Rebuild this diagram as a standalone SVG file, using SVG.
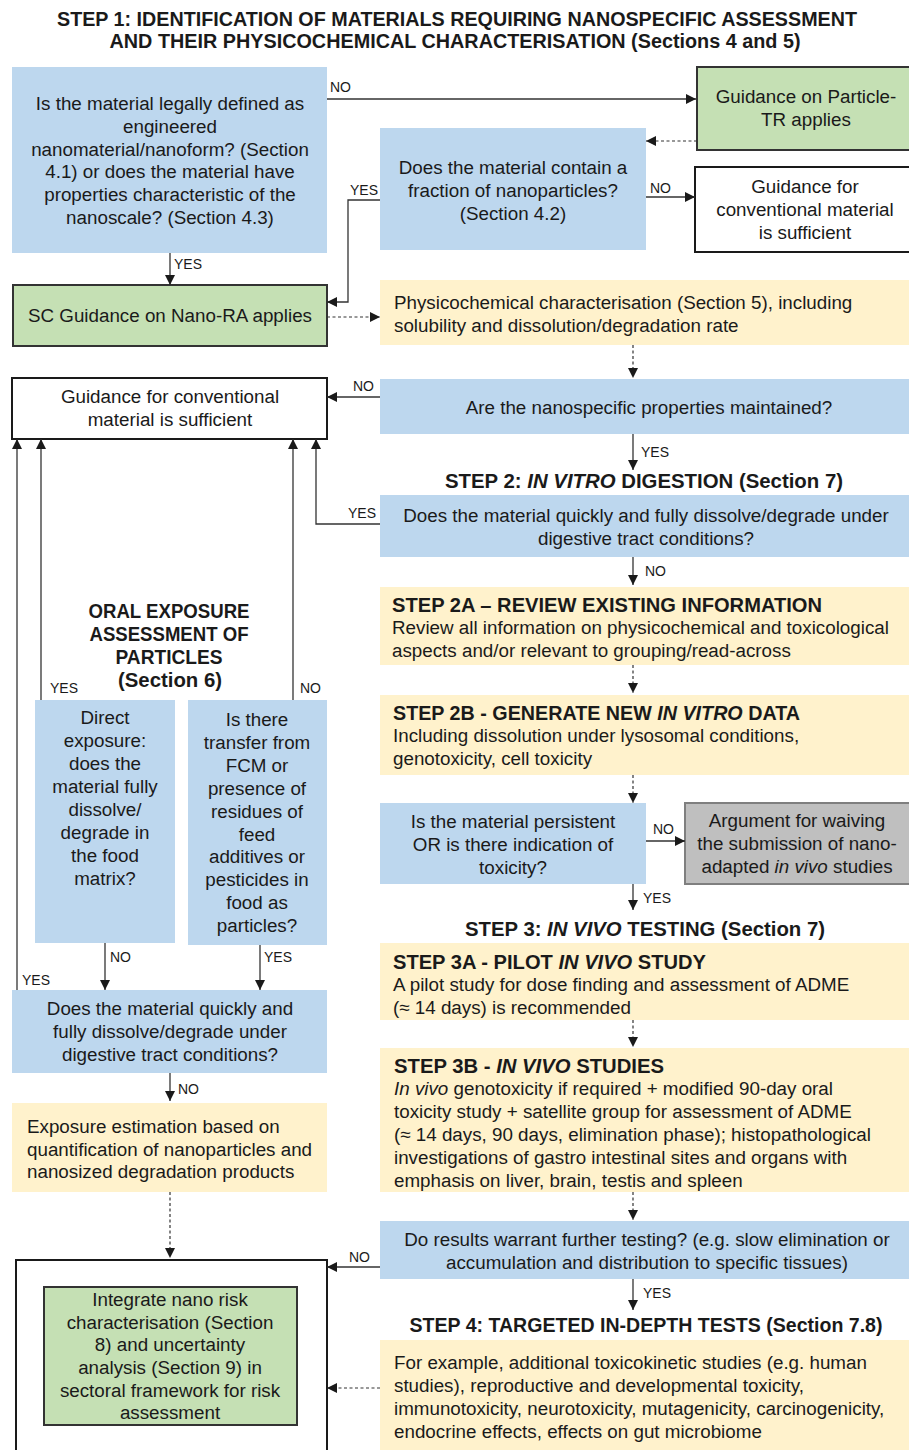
<svg xmlns="http://www.w3.org/2000/svg" width="909" height="1450" viewBox="0 0 909 1450">
<style>
text{font-family:"Liberation Sans",Arial,sans-serif;font-size:18.8px;fill:#1a1a1a}
.c{text-anchor:middle}
.b{font-weight:bold;font-size:20px}
.s{font-size:14px}
.blue{fill:#bdd7ee}
.yel{fill:#fff2cc}
.grn{fill:#c5e0b4;stroke:#333;stroke-width:2}
.wht{fill:#fff;stroke:#1a1a1a;stroke-width:2}
.gry{fill:#bfbfbf;stroke:#7f7f7f;stroke-width:2}
.ln{fill:none;stroke:#333;stroke-width:1.3}
.dl{fill:none;stroke:#333;stroke-width:1.2;stroke-dasharray:3,2.5}
</style>
<defs>
<marker id="ah" viewBox="0 0 10 10" refX="10" refY="5" markerWidth="10" markerHeight="10" markerUnits="userSpaceOnUse" orient="auto"><path d="M0,0 L10,5 L0,10 z" fill="#1a1a1a"/></marker>
</defs>
<rect width="909" height="1450" fill="#fff"/>
<g id="title1">
<text class="b c" x="457" y="26" textLength="800" lengthAdjust="spacingAndGlyphs">STEP 1: IDENTIFICATION OF MATERIALS REQUIRING NANOSPECIFIC ASSESSMENT</text>
<text class="b c" x="455" y="48" textLength="691" lengthAdjust="spacingAndGlyphs">AND THEIR PHYSICOCHEMICAL CHARACTERISATION (Sections 4 and 5)</text>
</g>
<g id="nodeA"><rect class="blue" x="12" y="67" width="315" height="186"/>
<text class="c" x="170" y="110">Is the material legally defined as</text>
<text class="c" x="170" y="133">engineered</text>
<text class="c" x="170" y="156">nanomaterial/nanoform? (Section</text>
<text class="c" x="170" y="178">4.1) or does the material have</text>
<text class="c" x="170" y="201">properties characteristic of the</text>
<text class="c" x="170" y="224">nanoscale? (Section 4.3)</text></g>
<g id="nodeB"><rect class="grn" x="697" y="67" width="214" height="83"/>
<text class="c" x="806" y="103">Guidance on Particle-</text>
<text class="c" x="806" y="126">TR applies</text></g>
<g id="nodeC"><rect class="blue" x="380" y="128" width="266" height="122"/>
<text class="c" x="513" y="174">Does the material contain a</text>
<text class="c" x="513" y="197">fraction of nanoparticles?</text>
<text class="c" x="513" y="220">(Section 4.2)</text></g>
<g id="nodeD"><rect class="wht" x="695" y="167" width="216" height="85"/>
<text class="c" x="805" y="193">Guidance for</text>
<text class="c" x="805" y="216">conventional material</text>
<text class="c" x="805" y="239">is sufficient</text></g>
<g id="nodeE"><rect class="grn" x="13" y="285" width="314" height="61"/>
<text class="c" x="170" y="322">SC Guidance on Nano-RA applies</text></g>
<g id="nodeF"><rect class="yel" x="380" y="280" width="529" height="65"/>
<text x="394" y="309">Physicochemical characterisation (Section 5), including</text>
<text x="394" y="332">solubility and dissolution/degradation rate</text></g>
<g id="nodeG"><rect class="wht" x="12" y="378" width="315" height="61"/>
<text class="c" x="170" y="403">Guidance for conventional</text>
<text class="c" x="170" y="426">material is sufficient</text></g>
<g id="nodeH"><rect class="blue" x="380" y="379" width="529" height="55"/>
<text class="c" x="649" y="414">Are the nanospecific properties maintained?</text></g>
<g id="title2"><text class="b c" x="644" y="488" textLength="398" lengthAdjust="spacingAndGlyphs">STEP 2: <tspan font-style="italic">IN VITRO</tspan> DIGESTION (Section 7)</text></g>
<g id="nodeI"><rect class="blue" x="380" y="495" width="529" height="62"/>
<text class="c" x="646" y="522">Does the material quickly and fully dissolve/degrade under</text>
<text class="c" x="646" y="545">digestive tract conditions?</text></g>
<g id="nodeJ"><rect class="yel" x="380" y="587" width="529" height="78"/>
<text class="b" x="392" y="612" textLength="430" lengthAdjust="spacingAndGlyphs">STEP 2A – REVIEW EXISTING INFORMATION</text>
<text x="392" y="634">Review all information on physicochemical and toxicological</text>
<text x="392" y="657">aspects and/or relevant to grouping/read-across</text></g>
<g id="nodeK"><rect class="yel" x="380" y="695" width="529" height="80"/>
<text class="b" x="393" y="720" textLength="407" lengthAdjust="spacingAndGlyphs">STEP 2B - GENERATE NEW <tspan font-style="italic">IN VITRO</tspan> DATA</text>
<text x="393" y="742">Including dissolution under lysosomal conditions,</text>
<text x="393" y="765">genotoxicity, cell toxicity</text></g>
<g id="nodeL"><rect class="blue" x="380" y="803" width="266" height="81"/>
<text class="c" x="513" y="828">Is the material persistent</text>
<text class="c" x="513" y="851">OR is there indication of</text>
<text class="c" x="513" y="874">toxicity?</text></g>
<g id="nodeM"><rect class="gry" x="685" y="803" width="225" height="81"/>
<text class="c" x="797" y="827">Argument for waiving</text>
<text class="c" x="797" y="850">the submission of nano-</text>
<text class="c" x="797" y="873">adapted <tspan font-style="italic">in vivo</tspan> studies</text></g>
<g id="title3"><text class="b c" x="645" y="936" textLength="360" lengthAdjust="spacingAndGlyphs">STEP 3: <tspan font-style="italic">IN VIVO</tspan> TESTING (Section 7)</text></g>
<g id="nodeN"><rect class="yel" x="380" y="943" width="529" height="77"/>
<text class="b" x="393" y="969" textLength="313" lengthAdjust="spacingAndGlyphs">STEP 3A - PILOT <tspan font-style="italic">IN VIVO</tspan> STUDY</text>
<text x="393" y="991">A pilot study for dose finding and assessment of ADME</text>
<text x="393" y="1014">(≈ 14 days) is recommended</text></g>
<g id="nodeO"><rect class="yel" x="380" y="1048" width="529" height="144"/>
<text class="b" x="394" y="1073" textLength="270" lengthAdjust="spacingAndGlyphs">STEP 3B - <tspan font-style="italic">IN VIVO</tspan> STUDIES</text>
<text x="394" y="1095"><tspan font-style="italic">In vivo</tspan> genotoxicity if required + modified 90-day oral</text>
<text x="394" y="1118">toxicity study + satellite group for assessment of ADME</text>
<text x="394" y="1141">(≈ 14 days, 90 days, elimination phase); histopathological</text>
<text x="394" y="1164">investigations of gastro intestinal sites and organs with</text>
<text x="394" y="1187">emphasis on liver, brain, testis and spleen</text></g>
<g id="nodeP"><rect class="blue" x="380" y="1221" width="529" height="58"/>
<text class="c" x="647" y="1246">Do results warrant further testing? (e.g. slow elimination or</text>
<text class="c" x="647" y="1269">accumulation and distribution to specific tissues)</text></g>
<g id="title4"><text class="b c" x="646" y="1332" textLength="473" lengthAdjust="spacingAndGlyphs">STEP 4: TARGETED IN-DEPTH TESTS (Section 7.8)</text></g>
<g id="nodeR"><rect class="yel" x="380" y="1340" width="529" height="110"/>
<text x="394" y="1369">For example, additional toxicokinetic studies (e.g. human</text>
<text x="394" y="1392">studies), reproductive and developmental toxicity,</text>
<text x="394" y="1415">immunotoxicity, neurotoxicity, mutagenicity, carcinogenicity,</text>
<text x="394" y="1438">endocrine effects, effects on gut microbiome</text></g>
<g id="title5">
<text class="b c" x="169" y="618" textLength="161" lengthAdjust="spacingAndGlyphs">ORAL EXPOSURE</text>
<text class="b c" x="169" y="641" textLength="159" lengthAdjust="spacingAndGlyphs">ASSESSMENT OF</text>
<text class="b c" x="169" y="664" textLength="107" lengthAdjust="spacingAndGlyphs">PARTICLES</text>
<text class="b c" x="170" y="687" textLength="104" lengthAdjust="spacingAndGlyphs">(Section 6)</text></g>
<g id="nodeU"><rect class="blue" x="35" y="700" width="140" height="243"/>
<text class="c" x="105" y="724">Direct</text>
<text class="c" x="105" y="747">exposure:</text>
<text class="c" x="105" y="770">does the</text>
<text class="c" x="105" y="793">material fully</text>
<text class="c" x="105" y="816">dissolve/</text>
<text class="c" x="105" y="839">degrade in</text>
<text class="c" x="105" y="862">the food</text>
<text class="c" x="105" y="885">matrix?</text></g>
<g id="nodeV"><rect class="blue" x="188" y="700" width="139" height="245"/>
<text class="c" x="257" y="726">Is there</text>
<text class="c" x="257" y="749">transfer from</text>
<text class="c" x="257" y="772">FCM or</text>
<text class="c" x="257" y="795">presence of</text>
<text class="c" x="257" y="818">residues of</text>
<text class="c" x="257" y="841">feed</text>
<text class="c" x="257" y="863">additives or</text>
<text class="c" x="257" y="886">pesticides in</text>
<text class="c" x="257" y="909">food as</text>
<text class="c" x="257" y="932">particles?</text></g>
<g id="nodeS"><rect class="blue" x="12" y="990" width="315" height="83"/>
<text class="c" x="170" y="1015">Does the material quickly and</text>
<text class="c" x="170" y="1038">fully dissolve/degrade under</text>
<text class="c" x="170" y="1061">digestive tract conditions?</text></g>
<g id="nodeT"><rect class="yel" x="12" y="1103" width="315" height="89"/>
<text x="27" y="1133">Exposure estimation based on</text>
<text x="27" y="1156">quantification of nanoparticles and</text>
<text x="27" y="1178">nanosized degradation products</text></g>
<g id="nodeQ"><rect class="wht" x="16" y="1260" width="311" height="200"/>
<rect class="grn" x="44" y="1287" width="253" height="138"/>
<text class="c" x="170" y="1306">Integrate nano risk</text>
<text class="c" x="170" y="1329">characterisation (Section</text>
<text class="c" x="170" y="1351">8) and uncertainty</text>
<text class="c" x="170" y="1374">analysis (Section 9) in</text>
<text class="c" x="170" y="1397">sectoral framework for risk</text>
<text class="c" x="170" y="1419">assessment</text></g>
<g id="connectors">
<path class="ln" d="M327,99 H696" marker-end="url(#ah)"/>
<path class="dl" d="M697,141 H646" marker-end="url(#ah)"/>
<path class="ln" d="M646,197 H695" marker-end="url(#ah)"/>
<path class="ln" d="M380,200 H348 V302 H327" marker-end="url(#ah)"/>
<path class="ln" d="M170,253 V285" marker-end="url(#ah)"/>
<path class="dl" d="M327,317 H380" marker-end="url(#ah)"/>
<path class="dl" d="M633,345 V378" marker-end="url(#ah)"/>
<path class="ln" d="M380,397 H327" marker-end="url(#ah)"/>
<path class="ln" d="M633,434 V470" marker-end="url(#ah)"/>
<path class="ln" d="M380,524 H316 V439" marker-end="url(#ah)"/>
<path class="ln" d="M633,557 V585" marker-end="url(#ah)"/>
<path class="dl" d="M633,665 V693" marker-end="url(#ah)"/>
<path class="dl" d="M633,775 V803" marker-end="url(#ah)"/>
<path class="ln" d="M646,841 H685" marker-end="url(#ah)"/>
<path class="ln" d="M633,884 V910" marker-end="url(#ah)"/>
<path class="dl" d="M633,1020 V1047" marker-end="url(#ah)"/>
<path class="dl" d="M633,1192 V1220" marker-end="url(#ah)"/>
<path class="ln" d="M380,1267 H327" marker-end="url(#ah)"/>
<path class="ln" d="M633,1279 V1310" marker-end="url(#ah)"/>
<path class="dl" d="M380,1388 H327" marker-end="url(#ah)"/>
<path class="ln" d="M41,700 V439" marker-end="url(#ah)"/>
<path class="ln" d="M293,700 V439" marker-end="url(#ah)"/>
<path class="ln" d="M17,990 V439" marker-end="url(#ah)"/>
<path class="ln" d="M105,943 V990" marker-end="url(#ah)"/>
<path class="ln" d="M260,945 V990" marker-end="url(#ah)"/>
<path class="ln" d="M170,1073 V1101" marker-end="url(#ah)"/>
<path class="dl" d="M170,1192 V1258" marker-end="url(#ah)"/>
<text class="s" x="330" y="92">NO</text>
<text class="s" x="650" y="193">NO</text>
<text class="s" x="350" y="195">YES</text>
<text class="s" x="174" y="269">YES</text>
<text class="s" x="353" y="391">NO</text>
<text class="s" x="641" y="457">YES</text>
<text class="s" x="348" y="518">YES</text>
<text class="s" x="645" y="576">NO</text>
<text class="s" x="653" y="834">NO</text>
<text class="s" x="643" y="903">YES</text>
<text class="s" x="349" y="1262">NO</text>
<text class="s" x="643" y="1298">YES</text>
<text class="s" x="50" y="693">YES</text>
<text class="s" x="300" y="693">NO</text>
<text class="s" x="22" y="985">YES</text>
<text class="s" x="110" y="962">NO</text>
<text class="s" x="264" y="962">YES</text>
<text class="s" x="178" y="1094">NO</text>
</g>
</svg>
